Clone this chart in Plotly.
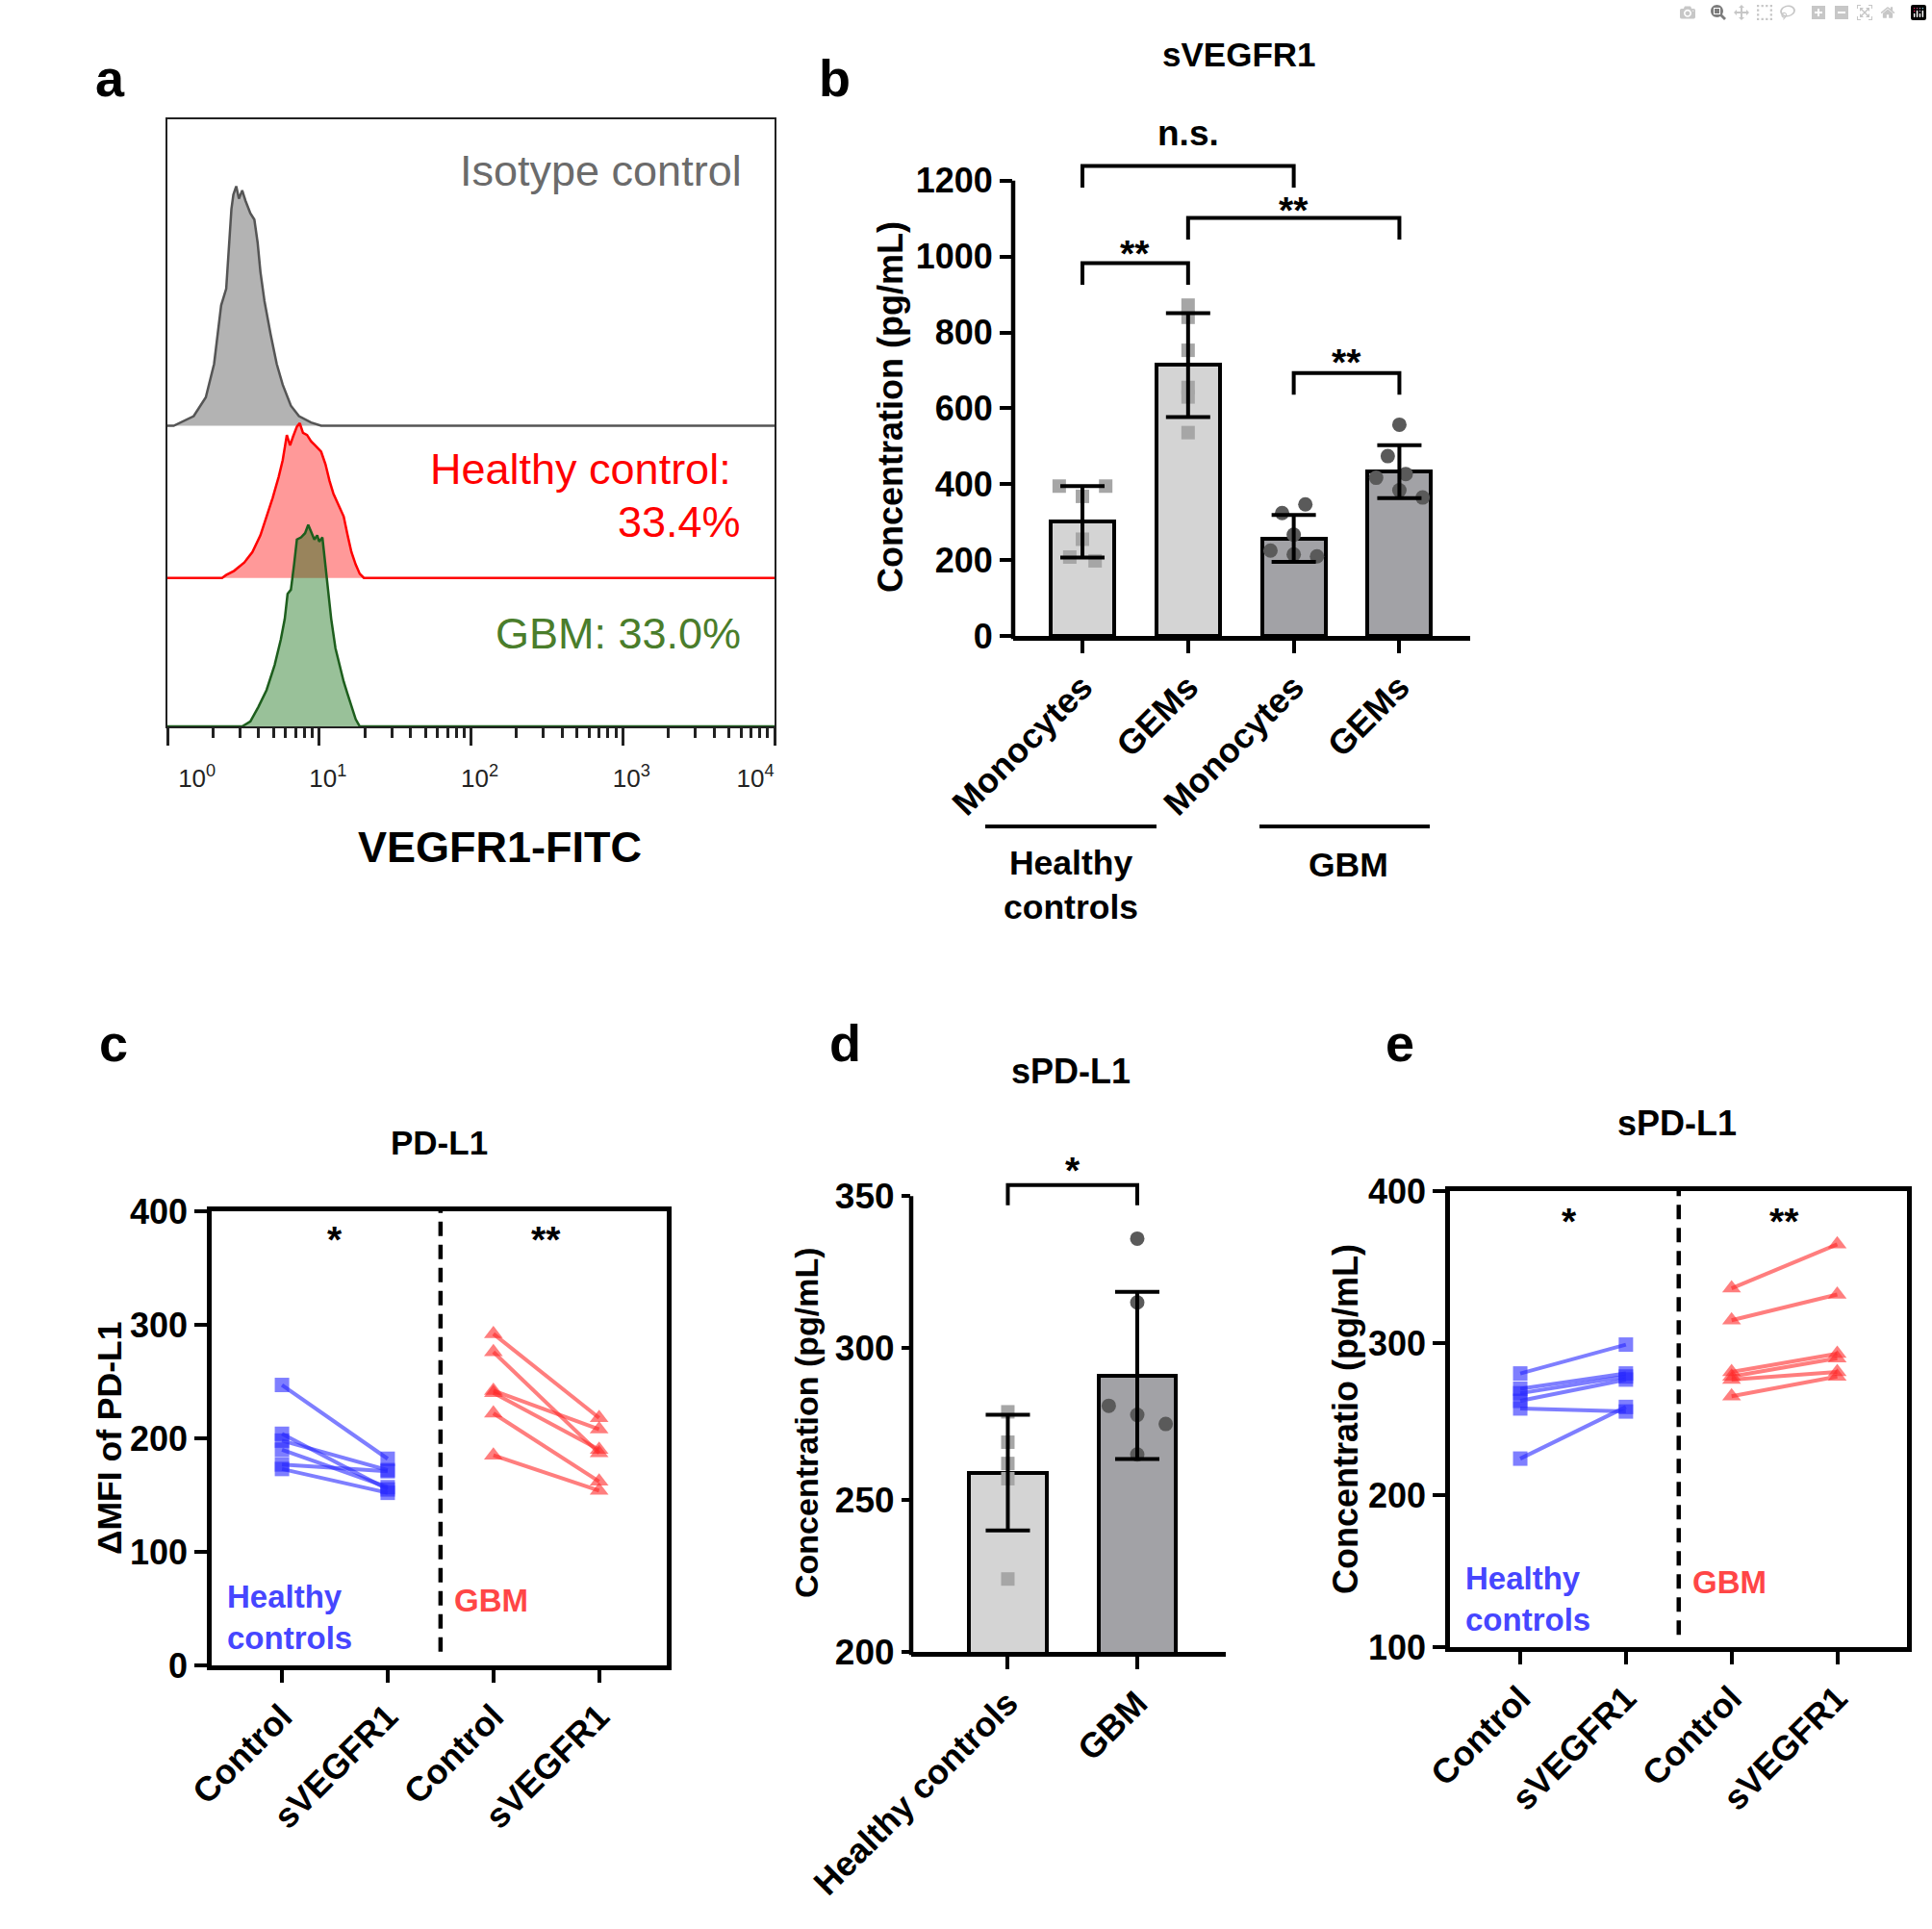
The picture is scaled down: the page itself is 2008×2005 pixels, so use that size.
import plotly.graph_objects as go

W, H = 2008, 2005
FONT = "Liberation Sans, Arial, Helvetica, sans-serif"

# ======================= DATA =======================
# --- a: VEGFR1-FITC flow histograms (intensity, events) ---
iso_x = [1.00, 1.10, 1.49, 1.79, 2.03, 2.15, 2.26, 2.44, 2.56, 2.64, 2.72, 2.84, 2.96, 3.11,
         3.27, 3.52, 3.74, 3.93, 4.10, 4.36, 4.79, 5.25, 5.75, 6.51, 7.36, 8.84, 10.3, 10000]
iso_y = [0, 0, 23, 68, 148, 228, 288, 328, 448, 518, 553, 573, 543, 563,
         538, 508, 493, 438, 368, 298, 218, 148, 98, 48, 23, 8, 0, 0]
hc_x = [1.00, 2.29, 2.44, 2.75, 3.21, 3.63, 4.10, 4.50, 4.94, 5.41, 5.75, 6.12, 6.43, 6.71, 7.13, 7.45,
        7.82, 8.32, 8.84, 9.40, 10.3, 11.0, 11.7, 12.4, 13.6, 14.5, 15.4, 16.3, 17.4, 18.5, 19.7, 10000]
hc_y = [0, 0, 7, 17, 37, 62, 102, 147, 192, 242, 282, 342, 317, 337, 362, 370,
        347, 342, 327, 317, 302, 272, 232, 202, 167, 147, 102, 62, 32, 10, 0, 0]
gbm_x = [1.00, 3.11, 3.52, 3.98, 4.50, 5.09, 5.58, 5.93, 6.19, 6.51, 6.83, 7.13, 7.59, 8.07, 8.47, 8.84,
         9.29, 9.70, 10.0, 10.5, 11.0, 11.5, 12.0, 12.8, 13.6, 14.5, 15.4, 16.3, 17.4, 18.5, 10000]
gbm_y = [0, 0, 12, 47, 87, 147, 207, 257, 317, 327, 387, 447, 452, 462, 482, 467,
         447, 457, 442, 452, 387, 327, 257, 187, 147, 107, 77, 47, 17, 0, 0]
a_tickvals = [1, 10, 100, 1000, 10000]
a_ticktext = ["10<sup>0</sup>", "10<sup>1</sup>", "10<sup>2</sup>", "10<sup>3</sup>", "10<sup>4</sup>"]
hist_labels = ["Isotype control", "Healthy control:", "33.4%", "GBM: 33.0%"]

# --- b: sVEGFR1 ---
b_cats = ["Monocytes", "GEMs", "Monocytes", "GEMs"]
b_mean = [301, 714, 257, 433]
b_sd = [94, 137, 62, 70]
b_pts = [[395, 395, 368, 255, 208, 198],
         [872, 840, 753, 655, 630, 536],
         [324, 347, 267, 225, 215, 210],
         [557, 474, 417, 427, 384, 365]]
b_ticks = [0, 200, 400, 600, 800, 1000, 1200]
b_tests = [(0, 1, "**"), (1, 3, "**"), (0, 2, "n.s."), (2, 3, "**")]
b_groups = ["Healthy<br>controls", "GBM"]

# --- c: PD-L1 dMFI ---
c_cats = ["Control", "sVEGFR1", "Control", "sVEGFR1"]
c_hc_ctrl = [247, 204, 198, 190, 177, 173]
c_hc_sv = [182, 155, 172, 157, 171, 152]
c_gbm_ctrl = [292, 276, 242, 240, 222, 185]
c_gbm_sv = [218, 187, 208, 190, 162, 154]
c_ticks = [0, 100, 200, 300, 400]

# --- d: sPD-L1 ---
d_cats = ["Healthy controls", "GBM"]
d_mean = [259, 291]
d_sd = [19, 27.5]
d_pts = [[279, 269, 262, 257, 224], [336, 315, 281, 278, 275, 265]]
d_ticks = [200, 250, 300, 350]

# --- e: sPD-L1 paired ---
e_cats = ["Control", "sVEGFR1", "Control", "sVEGFR1"]
e_hc_ctrl = [280, 270, 267, 262, 257, 224]
e_hc_sv = [299, 280, 278, 276, 255, 258]
e_gbm_ctrl = [336, 315, 281, 278, 276, 265]
e_gbm_sv = [365, 332, 293, 290, 281, 278]
e_ticks = [100, 200, 300, 400]

# ======================= STYLE / POSITIONS =======================
ISO_BASE, HC_BASE = 719, 355
b_jit = [[-0.22, 0.22, 0, 0, -0.12, 0.12], [0, 0, 0, 0, 0, 0],
         [-0.11, 0.11, 0, -0.22, 0, 0.22], [0, -0.11, -0.22, 0.06, 0, 0.22]]
b_brk_top = [983, 1102, 1239, 693]
b_brk_star_px = [17, 15, 29, 19]
b_brk_leg = 57
d_jit = [[0, 0, 0, 0, 0], [0, 0, -0.22, 0, 0.22, 0]]
BAR_HC, BAR_GBM = "#d4d4d4", "#a2a2a6"
PT_HC, PT_GBM = "#a6a6a6", "#5a5a5a"
BLUE = "rgba(40,40,255,0.6)"
RED = "rgba(255,40,40,0.6)"
STAR = 39
NBSP = "\u00a0"


def dx(p0, p1):
    return [p0 / W, p1 / W]


def dy(top, bot):
    return [1 - bot / H, 1 - top / H]


def px(p):
    return p / W


def py(p):
    return 1 - p / H


def f(size, color="black", bold=True, family=FONT):
    return dict(family=family, size=size, color=color, weight="bold" if bold else "normal")


fig = go.Figure()

# ---------------- panel a ----------------
fig.add_trace(go.Scatter(x=[1, 10000], y=[ISO_BASE, ISO_BASE], mode="lines", line=dict(width=0),
                         xaxis="x", yaxis="y", hoverinfo="skip"))
fig.add_trace(go.Scatter(x=iso_x, y=[ISO_BASE + v for v in iso_y], mode="lines", fill="tonexty",
                         fillcolor="rgba(128,128,128,0.6)", line=dict(color="#555555", width=2.5),
                         xaxis="x", yaxis="y"))
fig.add_trace(go.Scatter(x=[1, 10000], y=[HC_BASE, HC_BASE], mode="lines", line=dict(width=0),
                         xaxis="x", yaxis="y", hoverinfo="skip"))
fig.add_trace(go.Scatter(x=hc_x, y=[HC_BASE + v for v in hc_y], mode="lines", fill="tonexty",
                         fillcolor="rgba(255,0,0,0.4)", line=dict(color="#ff0000", width=2.5),
                         xaxis="x", yaxis="y"))
fig.add_trace(go.Scatter(x=gbm_x, y=gbm_y, mode="lines", fill="tozeroy",
                         fillcolor="rgba(0,100,0,0.4)", line=dict(color="#1d5e1d", width=2.5),
                         xaxis="x", yaxis="y"))

# ---------------- panel b ----------------
fig.add_trace(go.Bar(x=list(range(4)), y=b_mean, width=0.6,
                     marker=dict(color=[BAR_HC, BAR_HC, BAR_GBM, BAR_GBM], line=dict(color="black", width=4)),
                     xaxis="x2", yaxis="y2"))
for i, pts in enumerate(b_pts):
    fig.add_trace(go.Scatter(x=[i + j for j in b_jit[i]], y=pts, mode="markers",
                             marker=dict(symbol="square" if i < 2 else "circle", size=14 if i < 2 else 15,
                                         color=PT_HC if i < 2 else PT_GBM),
                             xaxis="x2", yaxis="y2"))
fig.add_trace(go.Scatter(x=list(range(4)), y=b_mean, mode="markers", marker=dict(size=1, opacity=0),
                         error_y=dict(type="data", array=b_sd, color="black", thickness=4, width=23),
                         xaxis="x2", yaxis="y2"))


# ---------------- panel c / e (paired lines) ----------------
def paired(ctrl, sv, x0, color, symbol, size, xa, ya):
    for a, b in zip(ctrl, sv):
        fig.add_trace(go.Scatter(x=[x0, x0 + 1], y=[a, b], mode="lines+markers",
                                 line=dict(color=color, width=4),
                                 marker=dict(symbol=symbol, size=size, color=color),
                                 xaxis=xa, yaxis=ya))


paired(c_hc_ctrl, c_hc_sv, 0, BLUE, "square", 15, "x3", "y3")
paired(c_gbm_ctrl, c_gbm_sv, 2, RED, "triangle-up", 17, "x3", "y3")
paired(e_hc_ctrl, e_hc_sv, 0, BLUE, "square", 15, "x5", "y5")
paired(e_gbm_ctrl, e_gbm_sv, 2, RED, "triangle-up", 17, "x5", "y5")

# ---------------- panel d ----------------
fig.add_trace(go.Bar(x=[0, 1], y=d_mean, width=0.6,
                     marker=dict(color=[BAR_HC, BAR_GBM], line=dict(color="black", width=4)),
                     xaxis="x4", yaxis="y4"))
for i, pts in enumerate(d_pts):
    fig.add_trace(go.Scatter(x=[i + j for j in d_jit[i]], y=pts, mode="markers",
                             marker=dict(symbol="square" if i == 0 else "circle", size=14 if i == 0 else 15,
                                         color=PT_HC if i == 0 else PT_GBM),
                             xaxis="x4", yaxis="y4"))
fig.add_trace(go.Scatter(x=[0, 1], y=d_mean, mode="markers", marker=dict(size=1, opacity=0),
                         error_y=dict(type="data", array=d_sd, color="black", thickness=4, width=23),
                         xaxis="x4", yaxis="y4"))

# ======================= AXES =======================
TK = dict(ticks="outside", ticklen=13, tickwidth=4, tickcolor="black", showgrid=False, zeroline=False,
          linecolor="black", linewidth=4.5, automargin=False)
TKD = dict(TK, ticklen=9)

a_text = list(a_ticktext)
a_text[0] = NBSP * 6 + a_text[0]
a_text[-1] = a_text[-1] + NBSP * 8

fig.update_layout(
    xaxis=dict(domain=dx(174, 805), anchor="y", type="log", range=[0, 4], showline=True, mirror=True,
               linecolor="#222", linewidth=2, ticks="outside", ticklen=18, tickwidth=3, tickcolor="#222",
               tickvals=a_tickvals, ticktext=a_text, tickfont=f(26, "#222", False), ticklabelstandoff=12,
               ticklabelshift=9,
               minor=dict(ticks="outside", ticklen=10, tickwidth=2.5, tickcolor="#222", dtick="D1", showgrid=False),
               showgrid=False, zeroline=False, automargin=False),
    yaxis=dict(domain=dy(124, 755), anchor="x", range=[0, 1452], showline=True, mirror=True, linecolor="#222",
               linewidth=2, showticklabels=False, ticks="", showgrid=False, zeroline=False, automargin=False),
    xaxis2=dict(domain=dx(1053, 1528), anchor="y2", range=[-0.656, 3.67], tickvals=list(range(4)),
                ticktext=b_cats, tickangle=-45, tickfont=f(36), showline=True, **TK),
    yaxis2=dict(domain=dy(109, 661), anchor="x2", range=[0, 1400], tickvals=b_ticks, tickfont=f(36),
                showline=False, **TK),
    xaxis3=dict(domain=dx(220, 693), anchor="y3", range=[-0.665, 3.64], tickvals=list(range(4)),
                ticktext=c_cats, tickangle=-45, tickfont=f(36), showline=True, mirror=True, **TK),
    yaxis3=dict(domain=dy(1259, 1731), anchor="x3", range=[0, 400], tickvals=c_ticks, tickfont=f(36),
                showline=True, mirror=True, **TK),
    xaxis4=dict(domain=dx(947, 1274), anchor="y4", range=[-0.747, 1.684], tickvals=[0, 1],
                ticktext=d_cats, tickangle=-45, tickfont=f(36), showline=True, **TK),
    yaxis4=dict(domain=dy(1180, 1717), anchor="x4", range=[200, 370], tickvals=d_ticks, tickfont=f(37),
                showline=False, **TKD),
    xaxis5=dict(domain=dx(1507, 1982), anchor="y5", range=[-0.665, 3.66], tickvals=list(range(4)),
                ticktext=e_cats, tickangle=-45, tickfont=f(36), showline=True, mirror=True, **TK),
    yaxis5=dict(domain=dy(1238, 1712), anchor="x5", range=[100, 400], tickvals=e_ticks, tickfont=f(36),
                showline=True, mirror=True, **TK),
)

# ======================= SHAPES =======================
shapes = []
# custom y spines (b, d) so brackets may sit above top tick
shapes.append(dict(type="line", xref="x2 domain", yref="y2 domain", x0=0, x1=0, y0=-0.006,
                   y1=(b_ticks[-1] - 0) / (1400 - 0), line=dict(color="black", width=4.5)))
shapes.append(dict(type="line", xref="x4 domain", yref="y4 domain", x0=0, x1=0, y0=-0.006,
                   y1=(d_ticks[-1] - 200) / (370 - 200), line=dict(color="black", width=4.5)))

annotations = []
for (i0, i1, txt), top, off in zip(b_tests, b_brk_top, b_brk_star_px):
    low = top - b_brk_leg
    shapes.append(dict(type="path", xref="x2", yref="y2",
                       path=f"M {i0},{low} L {i0},{top} L {i1},{top} L {i1},{low}",
                       line=dict(color="black", width=4)))
    if txt == "n.s.":
        annotations.append(dict(text=txt, x=(i0 + i1) / 2, y=top, xref="x2", yref="y2", showarrow=False,
                                font=f(37), yanchor="bottom", yshift=off - 0.47 * 37))
    else:
        annotations.append(dict(text=txt, x=(i0 + i1) / 2, y=top, xref="x2", yref="y2", showarrow=False,
                                font=f(STAR), yanchor="bottom", yshift=off - 0.79 * STAR))

# d bracket
shapes.append(dict(type="path", xref="x4", yref="y4", path="M 0,347 L 0,353.6 L 1,353.6 L 1,347",
                   line=dict(color="black", width=4)))
annotations.append(dict(text="*", x=0.5, y=353.6, xref="x4", yref="y4", showarrow=False, font=f(STAR),
                        yanchor="bottom", yshift=23 - 0.79 * STAR))

# dashed separators c, e
shapes.append(dict(type="line", xref="x3", yref="y3", x0=1.5, x1=1.5, y0=12, y1=400,
                   line=dict(color="black", width=4.5, dash="15px,9px")))
shapes.append(dict(type="line", xref="x5", yref="y5", x0=1.5, x1=1.5, y0=108, y1=400,
                   line=dict(color="black", width=4.5, dash="15px,9px")))

# b group lines
shapes.append(dict(type="line", xref="paper", yref="paper", x0=px(1024), x1=px(1202), y0=py(859), y1=py(859),
                   line=dict(color="black", width=4)))
shapes.append(dict(type="line", xref="paper", yref="paper", x0=px(1309), x1=px(1486), y0=py(859), y1=py(859),
                   line=dict(color="black", width=4)))


# ======================= TEXT =======================
def A(text, x, y, size, color="black", bold=True, xanchor="center", yanchor="middle", angle=0,
      xref="paper", yref="paper", align="center", yshift=0, family=FONT):
    annotations.append(dict(text=text, x=x, y=y, xref=xref, yref=yref, showarrow=False,
                            font=f(size, color, bold, family), xanchor=xanchor, yanchor=yanchor,
                            textangle=angle, align=align, yshift=yshift))


# panel letters
A("a", px(114), py(81), 54)
A("b", px(867), py(81), 54)
A("c", px(118), py(1084), 54)
A("d", px(878), py(1084), 54)
A("e", px(1455), py(1084), 54)

# panel a texts
A(hist_labels[0], px(773), py(177), 45, "#6b6b6b", False, xanchor="right")
A(hist_labels[1], px(762), py(488), 45, "#ff0000", False, xanchor="right")
A(hist_labels[2], px(772), py(543), 45, "#ff0000", False, xanchor="right")
A(hist_labels[3], px(772), py(658), 45, "#4a7d2b", False, xanchor="right")
A("VEGFR1-FITC", px(519), py(881), 45)

# titles
A("sVEGFR1", px(1288), py(56), 35)
A("PD-L1", px(456), py(1187), 35)
A("sPD-L1", px(1113), py(1113), 36)
A("sPD-L1", px(1743), py(1167), 36)

# y titles
A("Concentration (pg/mL)", px(925), py(423), 36, angle=-90)
A("\u0394MFI of PD-L1", px(114), py(1495), 35.5, angle=-90)
A("Concentration (pg/mL)", px(838), py(1479), 34, angle=-90)
A("Concentratio (pg/mL)", px(1398), py(1475), 36, angle=-90)

# b group labels
A(b_groups[0], px(1113), py(920), 35.5)
A(b_groups[1], px(1401), py(899), 35.5)

# c / e labels and stars
A("Healthy<br>controls", -0.54, 42, 33, "#4646ff", xanchor="left", align="left", xref="x3", yref="y3")
A("GBM", 1.61, 57, 33, "#ff4646", xanchor="left", xref="x3", yref="y3")
A("*", 0.5, 381, STAR, yanchor="bottom", xref="x3", yref="y3", yshift=-0.79 * STAR)
A("**", 2.5, 381, STAR, yanchor="bottom", xref="x3", yref="y3", yshift=-0.79 * STAR)
A("Healthy<br>controls", -0.54, 131.6, 33, "#4646ff", xanchor="left", align="left", xref="x5", yref="y5")
A("GBM", 1.61, 143, 33, "#ff4646", xanchor="left", xref="x5", yref="y5")
A("*", 0.46, 385, STAR, yanchor="bottom", xref="x5", yref="y5", yshift=-0.79 * STAR)
A("**", 2.5, 385, STAR, yanchor="bottom", xref="x5", yref="y5", yshift=-0.79 * STAR)

fig.update_layout(width=W, height=H, autosize=False, margin=dict(l=0, r=0, t=0, b=0),
                  plot_bgcolor="white", paper_bgcolor="white", showlegend=False,
                  shapes=shapes, annotations=annotations, bargap=0)

fig.write_html("out.html", post_script="document.body.style.margin='0px';")
